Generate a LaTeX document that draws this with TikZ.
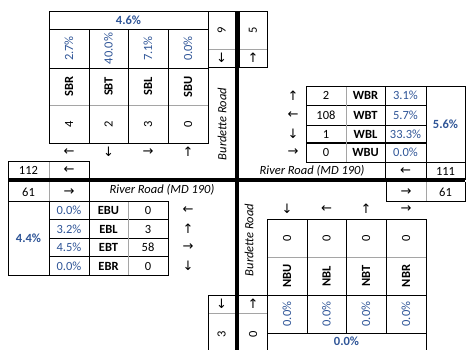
\documentclass[tikz,border=0pt]{standalone}
\usepackage{fontspec}
\setmainfont{Carlito}
\newfontfamily\arrowfont{DejaVu Sans}
\definecolor{pctblue}{RGB}{47,85,151}
\definecolor{gridgray}{RGB}{165,165,165}
\begin{document}
\begin{tikzpicture}[x=1pt,y=-1pt,
  every node/.style={inner sep=0pt, font=\fontsize{12.5}{15}\selectfont},
  pct/.style={text=pctblue},
  tot/.style={text=pctblue, font=\fontsize{12.5}{15}\selectfont\bfseries},
  lbl/.style={font=\fontsize{12.5}{15}\selectfont\bfseries},
  road/.style={font=\fontsize{12.5}{15}\selectfont\itshape},
  arr/.style={font=\fontsize{13}{15}\selectfont\arrowfont},
  rot/.style={rotate=90},
  bl/.style={draw=black, line width=0.9pt},
  gl/.style={draw=gridgray, line width=0.9pt},
  bigline/.style={draw=black, line width=4pt},
]
\useasboundingbox (0,0) rectangle (474,349);
\clip (0,0) rectangle (474,349);

% ---------- SB table ----------
\draw[gl] (49,105) -- (208,105);
\draw[bl] (49,29) -- (208,29);
\draw[bl] (49,68) -- (208,68);
\foreach \x in {89,128,168} \draw[bl] (\x,29) -- (\x,143);
\draw[bl] (49,11) rectangle (208,143);
\node[tot] (sbtot) at (128.5,20) {4.6\%};
\node[pct,rot] (sbrp) at (69,48.5) {2.7\%};
\node[pct,rot] (sbtp) at (108.5,48.5) {40.0\%};
\node[pct,rot] (sblp) at (148,48.5) {7.1\%};
\node[pct,rot] (sbup) at (188,48.5) {0.0\%};
\node[lbl,rot] (sbr) at (69,86.5) {SBR};
\node[lbl,rot] (sbt) at (108.5,86.5) {SBT};
\node[lbl,rot] (sbl) at (148,86.5) {SBL};
\node[lbl,rot] (sbu) at (188,86.5) {SBU};
\node[rot] (sbrn) at (69,124) {4};
\node[rot] (sbtn) at (108.5,124) {2};
\node[rot] (sbln) at (148,124) {3};
\node[rot] (sbun) at (188,124) {0};
\node[arr] (sbra) at (69,152) {←};
\node[arr] (sbta) at (108.5,152) {↓};
\node[arr] (sbla) at (148,152) {→};
\node[arr] (sbua) at (188,152) {↑};

% ---------- north approach boxes ----------
\draw[gl] (208,49) -- (235,49);
\draw[bl] (208,11) rectangle (235,67);
\node[rot] (nin) at (221.5,30) {9};
\node[arr] (nina) at (221.5,58) {↓};
\draw[gl] (239,49) -- (267,49);
\draw[bl] (239,11) rectangle (267,67);
\node[rot] (nout) at (253,30) {5};
\node[arr] (nouta) at (253,58) {↑};
\node[road,rot] (burdn) at (222,124) {Burdette Road};

% ---------- west approach (112) ----------
\draw[gl] (49,161) -- (49,180);
\draw[bl] (8,180) -- (8,161) -- (89,161) -- (89,180);
\node (win) at (28.5,170.5) {112};
\node[arr] (wina) at (69,170.5) {←};

% ---------- WB table ----------
\foreach \y in {105,125} \draw[bl] (306,\y) -- (426,\y);
\draw[bl, line width=1.3pt] (306,143) -- (426,143);
\draw[gl] (346,86) -- (346,162);
\draw[bl] (385,86) -- (385,180);
\draw[bl] (426,86) -- (426,180);
\draw[bl] (465,86) -- (465,180);
\draw[bl] (306,86) rectangle (465,162);
\node[tot] (wbtot) at (445.5,124) {5.6\%};
\node (wbrn) at (326,95.5) {2};
\node (wbtn) at (326,115) {108};
\node (wbln) at (326,134) {1};
\node (wbun) at (326,152.5) {0};
\node[lbl] (wbr) at (365.5,95.5) {WBR};
\node[lbl] (wbt) at (365.5,115) {WBT};
\node[lbl] (wbl) at (365.5,134) {WBL};
\node[lbl] (wbu) at (365.5,152.5) {WBU};
\node[pct] (wbrp) at (405.5,95.5) {3.1\%};
\node[pct] (wbtp) at (405.5,115) {5.7\%};
\node[pct] (wblp) at (405.5,134) {33.3\%};
\node[pct] (wbup) at (405.5,152.5) {0.0\%};
\node[arr] (wbra) at (293,95.5) {↑};
\node[arr] (wbta) at (293,115) {←};
\node[arr] (wbla) at (293,134) {↓};
\node[arr] (wbua) at (293,152.5) {→};
\node[road] (riverw) at (312,171) {River Road (MD 190)};
\node[arr] (wouta) at (405.5,171) {←};
\node (wout) at (445.5,171) {111};

% ---------- east side out (61) ----------
\draw[gl] (426,182) -- (426,201);
\draw[bl] (386,182) -- (386,201) -- (465,201) -- (465,182);
\node[arr] (eouta) at (406,192) {→};
\node (eout) at (445.5,192) {61};

% ---------- EB table ----------
\draw[gl] (49,182) -- (49,201);
\draw[bl] (8,182) -- (8,201);
\draw[bl] (89,182) -- (89,201);
\node (ein) at (28.5,192) {61};
\node[arr] (eina) at (69,192) {→};
\node[road] (rivere) at (162,190) {River Road (MD 190)};
\foreach \y in {219.5,238} \draw[bl] (49,\y) -- (168,\y);
\draw[bl, line width=1.3pt] (49,256.5) -- (168,256.5);
\draw[bl] (49,201) -- (49,275);
\draw[bl] (89,201) -- (89,275);
\draw[gl] (128,201) -- (128,275);
\draw[bl] (8,201) rectangle (168,275);
\node[tot] (ebtot) at (28.5,238) {4.4\%};
\node[pct] (ebup) at (69,210.5) {0.0\%};
\node[pct] (eblp) at (69,229) {3.2\%};
\node[pct] (ebtp) at (69,247.5) {4.5\%};
\node[pct] (ebrp) at (69,266) {0.0\%};
\node[lbl] (ebu) at (108.5,210.5) {EBU};
\node[lbl] (ebl) at (108.5,229) {EBL};
\node[lbl] (ebt) at (108.5,247.5) {EBT};
\node[lbl] (ebr) at (108.5,266) {EBR};
\node (ebun) at (148,210.5) {0};
\node (ebln) at (148,229) {3};
\node (ebtn) at (148,247.5) {58};
\node (ebrn) at (148,266) {0};
\node[arr] (ebua) at (188,210.5) {←};
\node[arr] (ebla) at (188,229) {↑};
\node[arr] (ebta) at (188,247.5) {→};
\node[arr] (ebra) at (188,266) {↓};

% ---------- south approach boxes ----------
\draw[gl] (208,313) -- (235,313);
\draw[bl] (208,360) -- (208,295) -- (235,295) -- (235,360);
\node[arr] (souta) at (221.5,304) {↓};
\node[rot] (sout) at (221.5,334) {3};
\draw[gl] (239,313) -- (267,313);
\draw[bl] (239,295) -- (267,295);
\node[arr] (sina) at (253,304) {↑};
\node[rot] (sin) at (253,334) {0};

% ---------- NB table ----------
\draw[gl] (267,257) -- (426,257);
\draw[bl] (267,295) -- (426,295);
\draw[bl] (267,333) -- (426,333);
\foreach \x in {307,346,386} \draw[bl] (\x,219) -- (\x,333);
\draw[bl] (267,219) rectangle (426,360);
\node[rot] (nbun) at (287,238) {0};
\node[rot] (nbln) at (326.5,238) {0};
\node[rot] (nbtn) at (366,238) {0};
\node[rot] (nbrn) at (406,238) {0};
\node[lbl,rot] (nbu) at (287,276) {NBU};
\node[lbl,rot] (nbl) at (326.5,276) {NBL};
\node[lbl,rot] (nbt) at (366,276) {NBT};
\node[lbl,rot] (nbr) at (406,276) {NBR};
\node[pct,rot] (nbup) at (287,314) {0.0\%};
\node[pct,rot] (nblp) at (326.5,314) {0.0\%};
\node[pct,rot] (nbtp) at (366,314) {0.0\%};
\node[pct,rot] (nbrp) at (406,314) {0.0\%};
\node[tot] (nbtot) at (346.5,341.5) {0.0\%};
\node[arr] (nbua) at (287,209) {↓};
\node[arr] (nbla) at (326.5,209) {←};
\node[arr] (nbta) at (366,209) {↑};
\node[arr] (nbra) at (406,209) {→};
\node[road,rot] (burds) at (249,240) {Burdette Road};

% ---------- road centre lines ----------
\draw[bigline] (237,11) -- (237,360);
\draw[bigline] (8,180) -- (465,180);
\end{tikzpicture}
\end{document}
